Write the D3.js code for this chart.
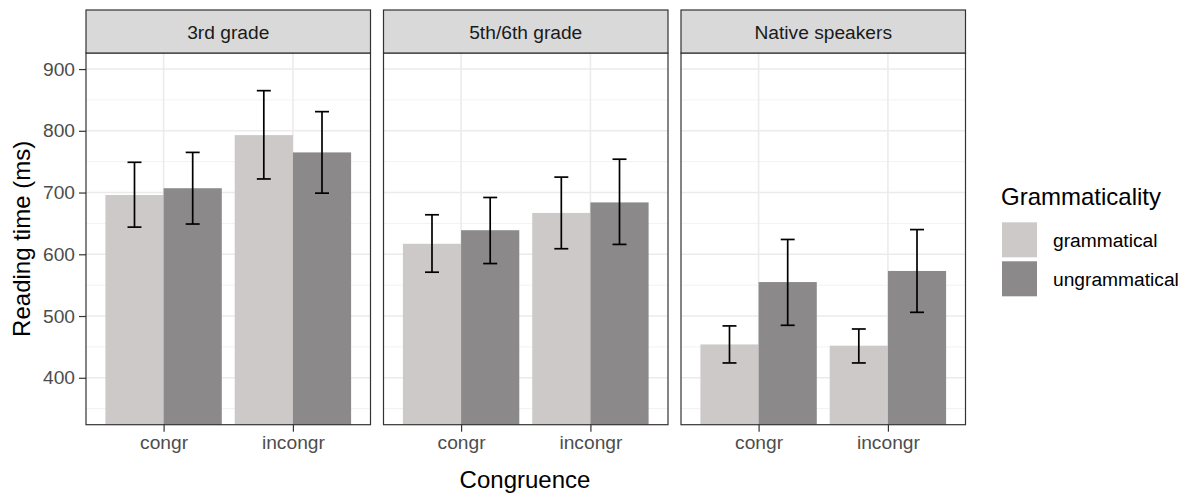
<!DOCTYPE html>
<html><head><meta charset="utf-8">
<script src="https://cdn.jsdelivr.net/npm/d3@7"></script>
<style>
html,body{margin:0;padding:0;background:#fff;}
svg text{font-family:"Liberation Sans",Arial,sans-serif;}
</style></head>
<body>
<svg id="chart" width="1197" height="498"></svg>
<script>
const groups = ["3rd grade", "5th/6th grade", "Native speakers"];
const congruence = ["congr", "incongr"];
const grammaticality = ["grammatical", "ungrammatical"];
const fillColors = ["#CDC9C9", "#8B8989"];
const yTicks = [400, 500, 600, 700, 800, 900];
const yMinor = [350, 450, 550, 650, 750, 850];
// values per group: [congr-gram, congr-ungram, incongr-gram, incongr-ungram]
const meanValues = [
  [696, 707, 793, 765],
  [617, 639, 667, 684],
  [454, 555, 452, 573]
];
const lowerValues = [
  [644, 649, 722, 699],
  [571, 585, 609, 616],
  [424, 485, 424, 506]
];
const upperValues = [
  [749, 765, 865, 831],
  [664, 692, 725, 754],
  [484, 624, 479, 640]
];

const data = [];
groups.forEach((g, gi) => {
  congruence.forEach((c, ci) => {
    grammaticality.forEach((m, mi) => {
      const k = ci * 2 + mi;
      data.push({group: g, congr: c, gram: m, mean: meanValues[gi][k], lo: lowerValues[gi][k], hi: upperValues[gi][k]});
    });
  });
});

const svg = d3.select("#chart");
const panelTop = 53, panelBottom = 424.7, stripTop = 10;
const facet = d3.scaleBand().domain(groups).range([86, 965.5]).paddingInner(13 / 297.5).paddingOuter(0);
const pw = facet.bandwidth();
const x = d3.scaleBand().domain(congruence).range([0, pw]).paddingInner(0.1).paddingOuter(0.15);
const xi = d3.scaleBand().domain(grammaticality).range([0, x.bandwidth()]).padding(0);
const y = d3.scaleLinear().domain([324, 926]).range([panelBottom, panelTop]);
const fill = d3.scaleOrdinal().domain(grammaticality).range(fillColors);

groups.forEach((g) => {
  const p = svg.append("g").attr("transform", `translate(${facet(g)},0)`);
  // minor grid
  p.selectAll(".minor").data(yMinor).join("line")
    .attr("x1", 0).attr("x2", pw).attr("y1", d => y(d)).attr("y2", d => y(d))
    .attr("stroke", "#F2F2F2").attr("stroke-width", 1);
  // major grid
  p.selectAll(".major").data(yTicks).join("line")
    .attr("x1", 0).attr("x2", pw).attr("y1", d => y(d)).attr("y2", d => y(d))
    .attr("stroke", "#EBEBEB").attr("stroke-width", 1.6);
  p.selectAll(".vmajor").data(congruence).join("line")
    .attr("x1", d => x(d) + x.bandwidth() / 2).attr("x2", d => x(d) + x.bandwidth() / 2)
    .attr("y1", panelTop).attr("y2", panelBottom)
    .attr("stroke", "#EBEBEB").attr("stroke-width", 1.6);
  const rows = data.filter(d => d.group === g);
  // bars
  p.selectAll(".bar").data(rows).join("rect")
    .attr("x", d => x(d.congr) + xi(d.gram))
    .attr("width", xi.bandwidth())
    .attr("y", d => y(d.mean))
    .attr("height", d => panelBottom - y(d.mean))
    .attr("fill", d => fill(d.gram));
  // error bars
  const capW = xi.bandwidth() * 0.24;
  const eb = p.selectAll(".eb").data(rows).join("g")
    .attr("transform", d => `translate(${x(d.congr) + xi(d.gram) + xi.bandwidth() / 2},0)`);
  eb.append("line").attr("x1", 0).attr("x2", 0).attr("y1", d => y(d.lo)).attr("y2", d => y(d.hi))
    .attr("stroke", "#000").attr("stroke-width", 1.7);
  eb.append("line").attr("x1", -capW / 2).attr("x2", capW / 2).attr("y1", d => y(d.lo)).attr("y2", d => y(d.lo))
    .attr("stroke", "#000").attr("stroke-width", 1.7);
  eb.append("line").attr("x1", -capW / 2).attr("x2", capW / 2).attr("y1", d => y(d.hi)).attr("y2", d => y(d.hi))
    .attr("stroke", "#000").attr("stroke-width", 1.7);
  // panel border
  p.append("rect").attr("x", 0).attr("y", panelTop).attr("width", pw).attr("height", panelBottom - panelTop)
    .attr("fill", "none").attr("stroke", "#333333").attr("stroke-width", 1.2);
  // strip
  p.append("rect").attr("x", 0).attr("y", stripTop).attr("width", pw).attr("height", panelTop - stripTop)
    .attr("fill", "#D9D9D9").attr("stroke", "#333333").attr("stroke-width", 1.2);
  p.append("text").attr("x", pw / 2).attr("y", 39).attr("text-anchor", "middle")
    .attr("font-size", 19.2).attr("fill", "#1A1A1A").text(g);
  // x axis
  const xa = p.append("g").attr("transform", `translate(0,${panelBottom})`)
    .call(d3.axisBottom(d3.scalePoint().domain(congruence).range([x(congruence[0]) + x.bandwidth() / 2, x(congruence[1]) + x.bandwidth() / 2])).tickSize(7).tickPadding(4));
  xa.select(".domain").remove();
  xa.selectAll(".tick line").attr("stroke", "#333333").attr("stroke-width", 1.2);
  xa.selectAll(".tick text").attr("font-size", 19.2).attr("fill", "#4D4D4D")
    .attr("font-family", "Liberation Sans, Arial, sans-serif");
});

// y axis
const ya = svg.append("g").attr("transform", `translate(86,0)`)
  .call(d3.axisLeft(y).tickValues(yTicks).tickSize(7).tickPadding(4));
ya.select(".domain").remove();
ya.selectAll(".tick line").attr("stroke", "#333333").attr("stroke-width", 1.2);
ya.selectAll(".tick text").attr("font-size", 19.2).attr("fill", "#4D4D4D")
  .attr("font-family", "Liberation Sans, Arial, sans-serif");

// axis titles
svg.append("text").attr("x", 525).attr("y", 488).attr("text-anchor", "middle")
  .attr("font-size", 24).attr("fill", "#000").text("Congruence");
svg.append("text").attr("transform", `translate(30,${(panelTop + panelBottom) / 2}) rotate(-90)`)
  .attr("text-anchor", "middle").attr("font-size", 24).attr("fill", "#000").text("Reading time (ms)");

// legend
const lg = svg.append("g").attr("transform", "translate(1001,0)");
lg.append("text").attr("x", 0).attr("y", 205).attr("font-size", 24).attr("fill", "#000").text("Grammaticality");
const items = lg.selectAll(".item").data(grammaticality).join("g")
  .attr("transform", (d, i) => `translate(1,${222.3 + i * 39})`);
items.append("rect").attr("width", 35).attr("height", 35).attr("fill", d => fill(d));
items.append("text").attr("x", 51).attr("y", 17.5).attr("dy", "0.35em")
  .attr("font-size", 19.2).attr("fill", "#000").text(d => d);
</script>
</body></html>
